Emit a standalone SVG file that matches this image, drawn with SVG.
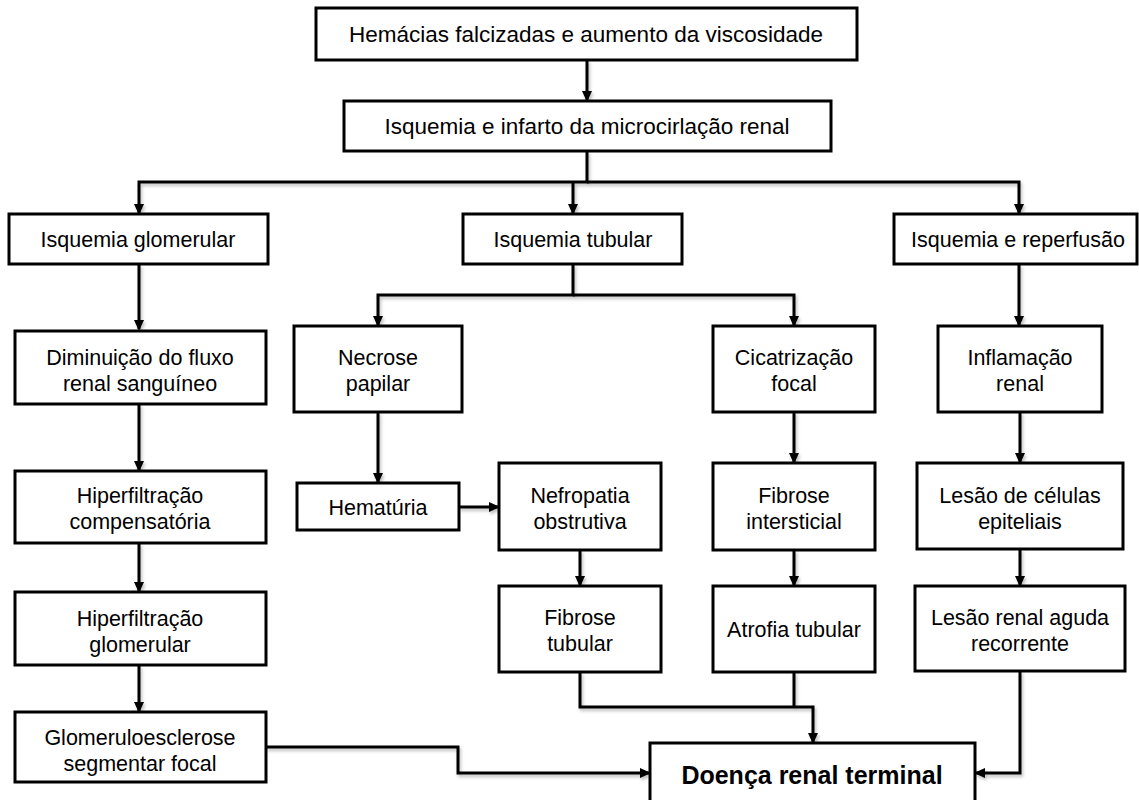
<svg xmlns="http://www.w3.org/2000/svg" width="1139" height="800" viewBox="0 0 1139 800">
<style>
.b{fill:#fff;stroke:#000;stroke-width:3}
.t{font-family:"Liberation Sans",Arial,sans-serif;font-size:21.5px;fill:#000;text-anchor:middle}
.tl{font-size:22.5px}
.tb{font-weight:bold;font-size:25px}
.c{fill:none;stroke:#000;stroke-width:3}
</style>
<defs>
<marker id="a" markerWidth="12" markerHeight="12" refX="9" refY="6" orient="auto" markerUnits="userSpaceOnUse" viewBox="0 0 12 12"><path d="M0,1 L11,6 L0,11 z" fill="#000"/></marker>
<filter id="sh" x="-5%" y="-5%" width="110%" height="120%"><feDropShadow dx="1.5" dy="2.5" stdDeviation="1.5" flood-color="#000" flood-opacity="0.25"/></filter>
</defs>
<rect width="1139" height="800" fill="#fff"/>
<g id="connectors" filter="url(#sh)">
<path class="c" d="M587,60 V100" marker-end="url(#a)"/>
<path class="c" d="M587,151 V182 H139 V213" marker-end="url(#a)"/>
<path class="c" d="M573,182 V213" marker-end="url(#a)"/>
<path class="c" d="M587,182 H1019 V213" marker-end="url(#a)"/>
<path class="c" d="M139,264 V329" marker-end="url(#a)"/>
<path class="c" d="M573,264 V295 H378 V325" marker-end="url(#a)"/>
<path class="c" d="M573,295 H794 V325" marker-end="url(#a)"/>
<path class="c" d="M1019,264 V325" marker-end="url(#a)"/>
<path class="c" d="M139,404 V470" marker-end="url(#a)"/>
<path class="c" d="M139,543 V591" marker-end="url(#a)"/>
<path class="c" d="M139,665 V711" marker-end="url(#a)"/>
<path class="c" d="M378,412 V482" marker-end="url(#a)"/>
<path class="c" d="M459,507 H498" marker-end="url(#a)"/>
<path class="c" d="M794,412 V462" marker-end="url(#a)"/>
<path class="c" d="M1020,412 V462" marker-end="url(#a)"/>
<path class="c" d="M580,550 V585" marker-end="url(#a)"/>
<path class="c" d="M794,550 V585" marker-end="url(#a)"/>
<path class="c" d="M1020,549 V585" marker-end="url(#a)"/>
<path class="c" d="M580,672 V707 H813 V742" marker-end="url(#a)"/>
<path class="c" d="M794,672 V707"/>
<path class="c" d="M266,747 H458 V773 H649" marker-end="url(#a)"/>
<path class="c" d="M1020,671 V773 H976" marker-end="url(#a)"/>
</g>
<g id="n1"><rect class="b" x="316" y="8" width="541" height="52"/><text class="t tl" x="586" y="42">Hemácias falcizadas e aumento da viscosidade</text></g>
<g id="n2"><rect class="b" x="344" y="101" width="487" height="50"/><text class="t tl" x="587" y="134">Isquemia e infarto da microcirlação renal</text></g>
<g id="n3"><rect class="b" x="9" y="214" width="259" height="50"/><text class="t" x="138" y="247">Isquemia glomerular</text></g>
<g id="n4"><rect class="b" x="463" y="214" width="219" height="50"/><text class="t" x="573" y="247">Isquemia tubular</text></g>
<g id="n5"><rect class="b" x="894" y="214" width="243" height="50"/><text class="t" x="1018" y="247">Isquemia e reperfusão</text></g>
<g id="n6"><rect class="b" x="15" y="331" width="251" height="73"/><text class="t" x="140" y="365">Diminuição do fluxo</text><text class="t" x="140" y="391">renal sanguíneo</text></g>
<g id="n7"><rect class="b" x="294" y="326" width="168" height="86"/><text class="t" x="378" y="365">Necrose</text><text class="t" x="378" y="391">papilar</text></g>
<g id="n8"><rect class="b" x="713" y="326" width="162" height="86"/><text class="t" x="794" y="365">Cicatrização</text><text class="t" x="794" y="391">focal</text></g>
<g id="n9"><rect class="b" x="938" y="326" width="164" height="86"/><text class="t" x="1020" y="365">Inflamação</text><text class="t" x="1020" y="391">renal</text></g>
<g id="n10"><rect class="b" x="15" y="471" width="251" height="72"/><text class="t" x="140" y="503">Hiperfiltração</text><text class="t" x="140" y="529">compensatória</text></g>
<g id="n11"><rect class="b" x="297" y="483" width="162" height="47"/><text class="t" x="378" y="515">Hematúria</text></g>
<g id="n12"><rect class="b" x="499" y="463" width="162" height="87"/><text class="t" x="580" y="503">Nefropatia</text><text class="t" x="580" y="529">obstrutiva</text></g>
<g id="n13"><rect class="b" x="713" y="463" width="162" height="87"/><text class="t" x="794" y="503">Fibrose</text><text class="t" x="794" y="529">intersticial</text></g>
<g id="n14"><rect class="b" x="917" y="463" width="206" height="86"/><text class="t" x="1020" y="503">Lesão de células</text><text class="t" x="1020" y="529">epiteliais</text></g>
<g id="n15"><rect class="b" x="15" y="592" width="251" height="73"/><text class="t" x="140" y="626">Hiperfiltração</text><text class="t" x="140" y="652">glomerular</text></g>
<g id="n16"><rect class="b" x="499" y="586" width="162" height="86"/><text class="t" x="580" y="625">Fibrose</text><text class="t" x="580" y="651">tubular</text></g>
<g id="n17"><rect class="b" x="713" y="586" width="162" height="86"/><text class="t" x="794" y="637">Atrofia tubular</text></g>
<g id="n18"><rect class="b" x="915" y="586" width="210" height="85"/><text class="t" x="1020" y="625">Lesão renal aguda</text><text class="t" x="1020" y="651">recorrente</text></g>
<g id="n19"><rect class="b" x="15" y="712" width="251" height="70"/><text class="t" x="140" y="745">Glomeruloesclerose</text><text class="t" x="140" y="771">segmentar focal</text></g>
<g id="n20"><rect class="b" x="650" y="743" width="325" height="70"/><text class="t tb" x="812" y="784">Doença renal terminal</text></g>
</svg>
